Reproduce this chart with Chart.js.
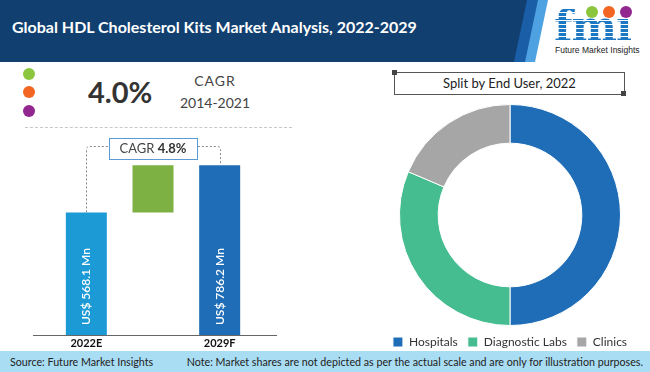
<!DOCTYPE html>
<html>
<head>
<meta charset="utf-8">
<script src="https://cdn.jsdelivr.net/npm/chart.js@4.4.0/dist/chart.umd.min.js"></script>
<style>
  html, body { margin: 0; padding: 0; }
  body { width: 650px; height: 372px; position: relative; overflow: hidden; background: #fff; font-family: Lato, sans-serif; }
  .abs { position: absolute; }
  #hdr { left: 0; top: 0; width: 650px; height: 62px; }
  #hdr .band { position: absolute; left: 0; top: 0; width: 650px; height: 62px; }
  #title { left: 12px; top: 17px; line-height: 20px; font-size: 16px; font-weight: bold; color: #fff; white-space: nowrap; }
  #logo { left: 554px; top: 1px; font-family: "DejaVu Serif", serif; font-weight: bold; font-size: 43px; line-height: 50px; letter-spacing: -1px;
    background: repeating-linear-gradient(to bottom, #1d78c4 0px, #1d78c4 3px, #fff 3px, #fff 4px);
    -webkit-background-clip: text; background-clip: text; color: transparent; }
  #logoTxt { left: 555px; top: 45px; font-family: "Liberation Sans", sans-serif; font-size: 8.5px; line-height: 10px; color: #222; white-space: nowrap; }
  .icon { width: 12px; height: 12px; border-radius: 50%; }
  .dot { width: 12px; height: 12px; border-radius: 50%; }
  #big { left: 88px; top: 75px; font-size: 29px; font-weight: bold; color: #333; line-height: 34px; }
  .cagr { width: 90px; text-align: center; font-size: 14px; color: #444; line-height: 18px; }
  #sep { left: 25px; top: 127px; width: 267px; border-top: 1px dashed #c8c8c8; }
  #splitBox { left: 394px; top: 72px; width: 229px; height: 21px; border: 1px solid #555; text-align: center; font-size: 13px; line-height: 21px; color: #222; }
  .corner { width: 5px; height: 5px; background: #444; }
  #footer { left: 0; top: 351px; width: 650px; height: 21px; background: #a9ddf3; font-size: 10.7px; color: #222; }
  #barWrap { left: 33px; top: 130px; width: 244px; height: 221px; }
  #pieWrap { left: 380px; top: 100px; width: 260px; height: 258px; }
</style>
</head>
<body>
<div id="hdr" class="abs">
  <div class="band" style="background:#113f6f; clip-path: polygon(0 0, 528px 0, 515px 62px, 0 62px);"></div>
  <div class="band" style="background:#1b5ea8; clip-path: polygon(527px 0, 539px 0, 526px 62px, 514px 62px);"></div>
  <div class="band" style="background:#4ea2e2; clip-path: polygon(538px 0, 548px 0, 535px 62px, 525px 62px);"></div>
</div>
<div id="title" class="abs">Global HDL Cholesterol Kits Market Analysis, 2022-2029</div>
<div id="logo" class="abs">fmı</div>
<div class="abs icon" style="left:586px; top:6px; background:#8cc63f;"></div>
<div class="abs icon" style="left:603px; top:6px; background:#f26522;"></div>
<div class="abs icon" style="left:620px; top:6px; background:#92278f;"></div>
<div id="logoTxt" class="abs">Future Market Insights</div>

<div class="abs dot" style="left:23px; top:68px; background:#8cc63f;"></div>
<div class="abs dot" style="left:23px; top:86px; background:#f26522;"></div>
<div class="abs dot" style="left:23px; top:105px; background:#92278f;"></div>
<div id="big" class="abs">4.0%</div>
<div class="abs cagr" style="left:170px; top:72px; letter-spacing:1px;">CAGR</div>
<div class="abs cagr" style="left:170px; top:94px;">2014-2021</div>
<div id="sep" class="abs"></div>

<div id="splitBox" class="abs">Split by End User, 2022</div>
<div class="abs corner" style="left:392px; top:70px;"></div>
<div class="abs corner" style="left:621px; top:91px;"></div>

<div id="footer" class="abs">
  <span class="abs" style="left:10px; top:0; line-height:21px;">Source: Future Market Insights</span>
  <span class="abs" style="right:7px; top:0; line-height:21px; white-space:nowrap;">Note: Market shares are not depicted as per the actual scale and are only for illustration purposes.</span>
</div>

<div id="barWrap" class="abs"><canvas id="barChart"></canvas></div>
<div id="pieWrap" class="abs"><canvas id="pieChart"></canvas></div>

<script>
// market size, US$ Mn
var yearLabels = ['2022E', '', '2029F'];
var marketStart = 568.1;
var marketEnd = 786.2;
var barText = ['US$ 568.1 Mn', '', 'US$ 786.2 Mn'];
var barColors = ['#1b9ad6', '#7eb143', '#1f6db7'];
var cagrLabel = 'CAGR ';
var cagrValue = '4.8%';

// split by end user, 2022 (%)
var userLabels = ['Hospitals', 'Diagnostic Labs', 'Clinics'];
var userShares = [50, 31.4, 18.6];
var userColors = ['#1f6db7', '#45bd90', '#a6a6a6'];

var barValues = [[0, marketStart], [marketStart, marketEnd], [0, marketEnd]];

var barExtras = {
    id: 'barExtras',
    afterDatasetsDraw: function (chart) {
        var ctx = chart.ctx;
        var bars = chart.getDatasetMeta(0).data;
        var area = chart.chartArea;
        ctx.save();

        // base line
        ctx.strokeStyle = '#666';
        ctx.lineWidth = 1;
        ctx.beginPath();
        ctx.moveTo(0, Math.round(area.bottom) + 0.5);
        ctx.lineTo(chart.width, Math.round(area.bottom) + 0.5);
        ctx.stroke();

        // value text inside the bars
        ctx.fillStyle = '#fff';
        ctx.font = '600 12px Lato';
        ctx.textAlign = 'left';
        ctx.textBaseline = 'middle';
        bars.forEach(function (bar, i) {
            if (!barText[i]) return;
            ctx.save();
            ctx.translate(bar.x, bar.base - 10);
            ctx.rotate(-Math.PI / 2);
            ctx.fillText(barText[i], 0, 0);
            ctx.restore();
        });

        // dotted bracket between the two totals
        var yb = area.top + 16.5;
        var x0 = Math.round(bars[0].x) + 0.5;
        var x2 = Math.round(bars[2].x) + 0.5;
        ctx.strokeStyle = '#8a8a8a';
        ctx.setLineDash([2, 2]);
        ctx.beginPath();
        ctx.moveTo(x0, bars[0].y);
        ctx.lineTo(x0, yb + 3);
        ctx.quadraticCurveTo(x0, yb, x0 + 3, yb);
        ctx.lineTo(x2 - 3, yb);
        ctx.quadraticCurveTo(x2, yb, x2, yb + 3);
        ctx.lineTo(x2, bars[2].y);
        ctx.stroke();
        ctx.setLineDash([]);

        // CAGR box
        var cx = (bars[0].x + bars[2].x) / 2;
        var bw = 88, bh = 21;
        var bx = Math.round(cx - bw / 2) + 0.5;
        var by = Math.round(yb - 9) + 0.5;
        ctx.fillStyle = '#fff';
        ctx.fillRect(bx, by, bw, bh);
        ctx.strokeStyle = '#5b9bd5';
        ctx.strokeRect(bx, by, bw, bh);
        ctx.font = '13px Lato';
        var w1 = ctx.measureText(cagrLabel).width;
        ctx.font = 'bold 13px Lato';
        var w2 = ctx.measureText(cagrValue).width;
        var tx = cx - (w1 + w2) / 2;
        ctx.textBaseline = 'middle';
        ctx.fillStyle = '#444';
        ctx.font = '13px Lato';
        ctx.fillText(cagrLabel, tx, by + bh / 2);
        ctx.fillStyle = '#333';
        ctx.font = 'bold 13px Lato';
        ctx.fillText(cagrValue, tx + w1, by + bh / 2);
        ctx.restore();
    }
};

var barChart = new Chart(document.getElementById('barChart'), {
    type: 'bar',
    data: {
        labels: yearLabels,
        datasets: [{
            data: barValues,
            backgroundColor: barColors,
            borderWidth: 0,
            barPercentage: 0.615,
            categoryPercentage: 1
        }]
    },
    options: {
        responsive: true,
        maintainAspectRatio: false,
        animation: false,
        layout: { padding: { left: 20, right: 24, top: 0, bottom: 0 } },
        plugins: { legend: { display: false }, tooltip: { enabled: false } },
        scales: {
            x: {
                grid: { display: false, drawTicks: false },
                border: { display: false },
                ticks: { color: '#111', font: { family: 'Lato', size: 11, weight: 'bold' }, padding: 2 },
                afterFit: function (scale) { scale.height = 16; }
            },
            y: { display: false, min: 0, max: 950 }
        }
    },
    plugins: [barExtras]
});

var pieChart = new Chart(document.getElementById('pieChart'), {
    type: 'doughnut',
    data: {
        labels: userLabels,
        datasets: [{
            data: userShares,
            backgroundColor: userColors,
            borderColor: '#fff',
            borderWidth: 1
        }]
    },
    options: {
        responsive: true,
        maintainAspectRatio: false,
        animation: false,
        cutout: '65%',
        layout: { padding: { top: 4 } },
        plugins: {
            tooltip: { enabled: false },
            legend: {
                position: 'bottom',
                labels: {
                    boxWidth: 10,
                    boxHeight: 10,
                    padding: 10,
                    color: '#333',
                    font: { family: 'Lato', size: 12 }
                }
            }
        }
    }
});
</script>
</body>
</html>
